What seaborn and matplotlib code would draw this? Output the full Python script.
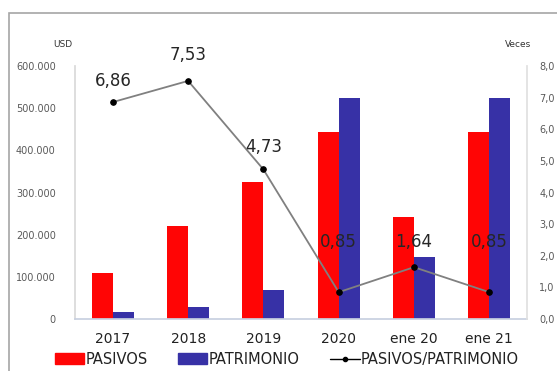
import pandas as pd
import matplotlib
matplotlib.use('Agg')
import matplotlib.pyplot as plt
from matplotlib.patches import Rectangle, Patch
from matplotlib.lines import Line2D
from matplotlib.ticker import FuncFormatter
import seaborn as sns

periodos = ['2017', '2018', '2019', '2020', 'ene 20', 'ene 21']
pasivos = [109000, 220000, 325000, 443000, 243000, 443000]
patrimonio = [16000, 29000, 69000, 524000, 148000, 524000]
ratio = [6.86, 7.53, 4.73, 0.85, 1.64, 0.85]
# vertical shift of each data label (points)
label_dy = [9, 12, 10, 30, 12, 30]

RED = '#ff0505'
BLUE = '#3731a6'
GREY_TXT = '#595959'

sns.set_theme(style='white')
plt.rcParams['font.family'] = ['DejaVu Sans']

df = pd.DataFrame({
    'periodo': periodos * 2,
    'valor': pasivos + patrimonio,
    'serie': ['PASIVOS'] * 6 + ['PATRIMONIO'] * 6,
})

fig = plt.figure(figsize=(5.57, 3.71), dpi=100)
ax = fig.add_axes([0.135, 0.14, 0.811, 0.682])

sns.barplot(data=df, x='periodo', y='valor', hue='serie', order=periodos,
            palette=[RED, BLUE], width=0.56, saturation=1, ax=ax, legend=False,
            edgecolor='none', linewidth=0)
ax.set_ylim(0, 600000)
ax.set_yticks(range(0, 600001, 100000))
ax.yaxis.set_major_formatter(FuncFormatter(
    lambda v, p: '0' if v == 0 else f'{int(v):,}'.replace(',', '.')))
ax.set_xlabel('')
ax.set_ylabel('')
ax.tick_params(axis='y', labelsize=7, colors=GREY_TXT, length=0, pad=14)
ax.tick_params(axis='x', labelsize=10, colors='#222222', length=0, pad=9)
for s in ['top', 'right']:
    ax.spines[s].set_visible(False)
ax.spines['left'].set_color('#d9d9d9')
ax.spines['bottom'].set_color('#c8d0e0')

ax2 = ax.twinx()
sns.lineplot(x=list(range(6)), y=ratio, ax=ax2, color='#808080', lw=1.3,
             marker='o', markersize=4, markerfacecolor='black',
             markeredgecolor='black')
ax2.set_ylim(0, 8)
ax2.set_yticks(range(0, 9))
ax2.yaxis.set_major_formatter(FuncFormatter(lambda v, p: f'{v:.1f}'.replace('.', ',')))
ax2.tick_params(axis='y', labelsize=7, colors=GREY_TXT, length=0, pad=9)
ax2.set_ylabel('')
for s in ['top', 'left', 'bottom']:
    ax2.spines[s].set_visible(False)
ax2.spines['right'].set_color('#e0e0e0')
ax.set_xlim(-0.5, 5.5)

for i, (v, dy) in enumerate(zip(ratio, label_dy)):
    ax2.annotate(f'{v:.2f}'.replace('.', ','), (i, v), xytext=(0, dy),
                 textcoords='offset points', ha='center', va='bottom',
                 fontsize=12, color='#262626')

fig.text(0.113, 0.872, 'USD', fontsize=6.5, color='#333333', ha='center')
fig.text(0.93, 0.872, 'Veces', fontsize=6.5, color='#333333', ha='center')

handles = [Patch(color=RED), Patch(color=BLUE),
           Line2D([0], [0], color='black', lw=1, marker='o', markersize=3)]
fig.legend(handles, ['PASIVOS', 'PATRIMONIO', 'PASIVOS/PATRIMONIO'],
           loc='center', bbox_to_anchor=(0.515, 0.032), ncol=3, frameon=False,
           fontsize=10.5, handlelength=2.0, handleheight=0.7, handletextpad=0.1,
           columnspacing=2.1, labelcolor='#222222', borderpad=0)

fig.patches.append(Rectangle((0.016, -0.1), 1.1, 1.065, transform=fig.transFigure,
                             fill=False, edgecolor='#a6a6a6', lw=1.2))

fig.savefig('out.png', dpi=100, facecolor='white')
